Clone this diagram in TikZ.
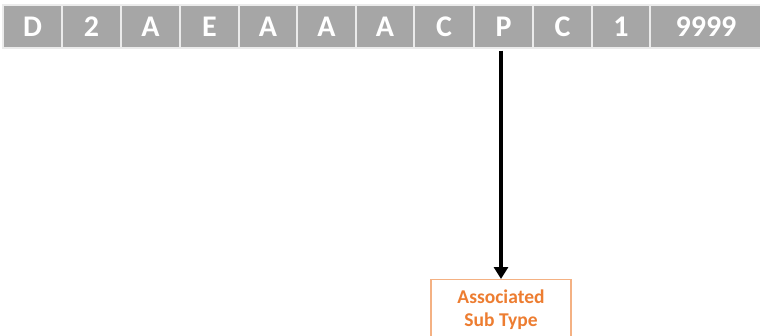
\documentclass[tikz,border=0pt]{standalone}
\usepackage{fontspec}
\setmainfont{Carlito}
\usetikzlibrary{arrows.meta}
\definecolor{cellgray}{HTML}{A6A6A6}
\definecolor{orangetxt}{HTML}{ED7D31}
\definecolor{orangeline}{HTML}{F4B183}
\begin{document}
\begin{tikzpicture}[x=1pt,y=-1pt,
  cellbox/.style={draw=white!92!black,line width=1.2pt,fill=cellgray,text=white,
    font=\fontsize{30}{30}\selectfont\bfseries,inner sep=0pt},
  typebox/.style={draw=orangeline,line width=1.2pt,fill=white,text=orangetxt,
    font=\fontsize{19.5}{24}\selectfont\bfseries,align=center,inner sep=0pt,
    minimum width=140pt,minimum height=60pt,anchor=north},
  link/.style={line width=3.5pt,-{Triangle[width=14pt,length=12pt]}}]
\useasboundingbox (0,0) rectangle (760,335);
\foreach \n/\a/\b/\t in {c1/3/62/D,c2/62/121/2,c3/121/180/A,c4/180/239/E,c5/239/297/A,c6/297/356/A,c7/356/414/A,c8/414/474/C,P/474/533/P,c10/533/592/C,c11/592/650/1,c12/650/762/9999}{
  \node[cellbox,minimum width={\b-\a},minimum height=43pt] (\n) at ({(\a+\b)/2},26.5) {\t};
}
\node[typebox] (sub) at (501,279) {Associated\\[-1pt]Sub Type};
\coordinate (start) at ([yshift=-2pt]P.south -| sub.north);
\draw[link] (start) -- (sub.north);
\end{tikzpicture}
\end{document}
